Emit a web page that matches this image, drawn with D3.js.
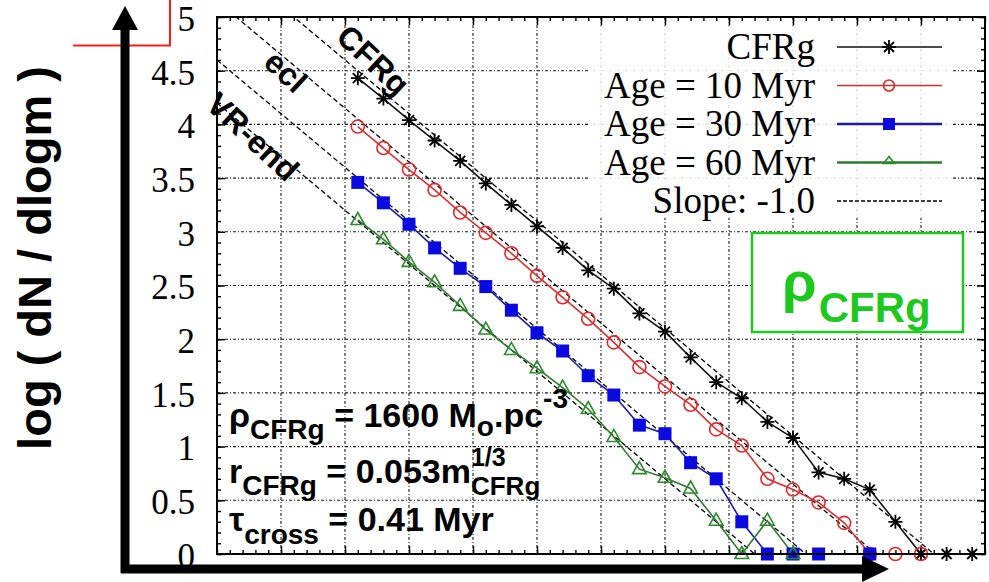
<!DOCTYPE html>
<html>
<head>
<meta charset="utf-8">
<script src="https://cdn.jsdelivr.net/npm/d3@7"></script>
<style>
  html, body { margin: 0; padding: 0; background: #fff; }
  svg { display: block; }
  text { white-space: pre; }
</style>
</head>
<body>
<svg id="chart" width="989" height="582"></svg>
<script>
// log10 of the cluster mass at each sampled bin
const logMass = [1.6, 1.8, 2.0, 2.2, 2.4, 2.6, 2.8, 3.0, 3.2, 3.4, 3.6, 3.8, 4.0,
                 4.2, 4.4, 4.6, 4.8, 5.0, 5.2, 5.4, 5.6, 5.8, 6.0, 6.2, 6.4];

// log(dN/dlogm) for each population (null = no point in that bin)
const cfrg   = [4.43, 4.24, 4.04, 3.85, 3.66, 3.45, 3.25, 3.05, 2.85, 2.64, 2.47, 2.24, 2.07,
                1.83, 1.60, 1.45, 1.23, 1.08, 0.76, 0.70, 0.60, 0.30, 0, 0, 0];
const age10  = [3.98, 3.78, 3.58, 3.39, 3.18, 2.99, 2.80, 2.59, 2.39, 2.19, 1.97, 1.74, 1.56,
                1.39, 1.16, 1.01, 0.70, 0.60, 0.48, 0.29, 0, 0, 0];
const age30  = [3.46, 3.27, 3.07, 2.85, 2.66, 2.49, 2.27, 2.06, 1.89, 1.66, 1.48, 1.20, 1.12,
                0.85, 0.70, 0.30, 0, 0, 0, null, 0];
const age60  = [3.11, 2.93, 2.72, 2.53, 2.31, 2.09, 1.90, 1.73, 1.55, 1.35, 1.09, 0.79, 0.71,
                0.61, 0.31, 0, 0.31, 0];

// reference power laws of slope -1: log(dN/dlogm) = intercept - log m
const slopeIntercepts = [6.10, 5.65, 5.10, 4.70];

const yTicks = [0, 0.5, 1, 1.5, 2, 2.5, 3, 3.5, 4, 4.5, 5];
const yTickLabels = ["0", "0.5", "1", "1.5", "2", "2.5", "3", "3.5", "4", "4.5", "5"];
const xGridValues = [1, 1.5, 2, 2.5, 3, 3.5, 4, 4.5, 5, 5.5, 6];

const legendLabels = ["CFRg", "Age = 10 Myr", "Age = 30 Myr", "Age = 60 Myr", "Slope: -1.0"];

const W = 989, H = 582;
const plot = { left: 217, right: 985, top: 17, bottom: 554 };

const x = d3.scaleLinear().domain([0.5, 6.5]).range([plot.left, plot.right]);
const y = d3.scaleLinear().domain([0, 5]).range([plot.bottom, plot.top]);

const svg = d3.select("#chart");
svg.append("rect").attr("width", W).attr("height", H).attr("fill", "#fff");

svg.append("defs").append("clipPath").attr("id", "plotClip")
  .append("rect")
  .attr("x", plot.left).attr("y", plot.top)
  .attr("width", plot.right - plot.left).attr("height", plot.bottom - plot.top);

// ---- grid ----
const grid = svg.append("g").attr("stroke", "#1a1a1a").attr("stroke-width", 1.1)
  .attr("stroke-dasharray", "3,2,1,2");
grid.selectAll("line.gx").data(xGridValues).join("line")
  .attr("x1", d => x(d)).attr("x2", d => x(d))
  .attr("y1", plot.top).attr("y2", plot.bottom);
grid.selectAll("line.gy").data(yTicks.filter(d => d > 0 && d < 5)).join("line")
  .attr("x1", plot.left).attr("x2", plot.right)
  .attr("y1", d => y(d)).attr("y2", d => y(d));

// ---- ticks on all four sides ----
function plainTicks(g) {
  g.select(".domain").remove();
  g.selectAll(".tick line").attr("stroke", "#000").attr("stroke-width", 1.4);
}
const minorY = d3.range(0, 5.0001, 0.1);
const minorX = d3.range(0.5, 6.5001, 0.1);

svg.append("g").attr("transform", `translate(${plot.left},0)`)
  .call(d3.axisLeft(y).tickValues(minorY).tickSize(-4).tickFormat(""))
  .call(plainTicks);
svg.append("g").attr("transform", `translate(${plot.right},0)`)
  .call(d3.axisRight(y).tickValues(minorY).tickSize(-4).tickFormat(""))
  .call(plainTicks);
svg.append("g").attr("transform", `translate(${plot.right},0)`)
  .call(d3.axisRight(y).tickValues(yTicks).tickSize(-8).tickFormat(""))
  .call(plainTicks);
svg.append("g").attr("transform", `translate(0,${plot.top})`)
  .call(d3.axisTop(x).tickValues(minorX).tickSize(-4).tickFormat(""))
  .call(plainTicks);
svg.append("g").attr("transform", `translate(0,${plot.top})`)
  .call(d3.axisTop(x).tickValues(xGridValues).tickSize(-8).tickFormat(""))
  .call(plainTicks);
svg.append("g").attr("transform", `translate(0,${plot.bottom})`)
  .call(d3.axisBottom(x).tickValues(minorX).tickSize(-4).tickFormat(""))
  .call(plainTicks);
svg.append("g").attr("transform", `translate(0,${plot.bottom})`)
  .call(d3.axisBottom(x).tickValues(xGridValues).tickSize(-8).tickFormat(""))
  .call(plainTicks);

const yAxis = svg.append("g").attr("transform", `translate(${plot.left},0)`)
  .call(d3.axisLeft(y).tickValues(yTicks).tickFormat((d, i) => yTickLabels[i])
    .tickSizeInner(-8).tickSizeOuter(0).tickPadding(22))
  .call(plainTicks);
yAxis.selectAll(".tick text")
  .attr("font-family", "'Liberation Serif', 'Times New Roman', serif")
  .attr("font-size", 35).attr("fill", "#000").attr("dy", "0.38em");

// ---- slope -1 reference lines ----
const plotArea = svg.append("g").attr("clip-path", "url(#plotClip)");
const lineGen = d3.line().x(d => x(d[0])).y(d => y(d[1]));
plotArea.selectAll("path.ref").data(slopeIntercepts).join("path")
  .attr("class", "ref")
  .attr("d", c => lineGen([[0.5, c - 0.5], [6.5, c - 6.5]]))
  .attr("fill", "none").attr("stroke", "#000").attr("stroke-width", 1.3)
  .attr("stroke-dasharray", "5,3");

// ---- data series ----
const series = [
  { values: cfrg,  color: "#000000", lineColor: "#111111", marker: "star" },
  { values: age10, color: "#dd2a2a", lineColor: "#d83030", marker: "circle" },
  { values: age30, color: "#0a0ae0", lineColor: "#1a1aa8", marker: "square" },
  { values: age60, color: "#2c8a2c", lineColor: "#2f7a2f", marker: "triangle" }
];

const starPath = "M-7,0H7M0,-7V7M-5,-5L5,5M-5,5L5,-5";
const triPath = "M0,-7.5L6.8,4.5L-6.8,4.5Z";

function drawMarker(g, type, color) {
  if (type === "star") {
    g.append("path").attr("d", starPath).attr("stroke", color).attr("stroke-width", 1.8).attr("fill", "none");
  } else if (type === "circle") {
    g.append("circle").attr("r", 6.5).attr("fill", "none").attr("stroke", color).attr("stroke-width", 1.6);
  } else if (type === "square") {
    g.append("rect").attr("x", -6.5).attr("y", -6.5).attr("width", 13).attr("height", 13).attr("fill", color);
  } else {
    g.append("path").attr("d", triPath).attr("fill", "none").attr("stroke", color).attr("stroke-width", 1.6);
  }
}

series.forEach(s => {
  const pts = s.values.map((v, i) => ({ m: logMass[i], v })).filter(d => d.v !== null);
  plotArea.append("path")
    .attr("d", d3.line().x(d => x(d.m)).y(d => y(d.v))(pts))
    .attr("fill", "none").attr("stroke", s.lineColor).attr("stroke-width", 1.6);
  pts.forEach(d => {
    const g = svg.append("g").attr("transform", `translate(${x(d.m)},${y(d.v)})`);
    drawMarker(g, s.marker, s.color);
  });
});

// ---- labels along the reference lines ----
const ang = Math.atan2(y(0) - y(1), x(1) - x(0));          // screen angle of a slope -1 line
const perp = [Math.sin(ang), -Math.cos(ang)];               // points to the upper right
const lineLabels = [
  { text: "CFRg",   c: slopeIntercepts[0], m: 1.63, off: 18 },
  { text: "ecl",    c: slopeIntercepts[1], m: 1.087, off: -10 },
  { text: "VR-end", c: slopeIntercepts[2], m: 0.96, off: -36 }
];
lineLabels.forEach(l => {
  const px = x(l.m) + l.off * perp[0];
  const py = y(l.c - l.m) + l.off * perp[1];
  svg.append("text")
    .attr("transform", `translate(${px},${py}) rotate(${ang * 180 / Math.PI + 3})`)
    .attr("text-anchor", "middle").attr("dominant-baseline", "central")
    .attr("font-family", "'Liberation Sans', Arial, sans-serif").attr("font-weight", "bold")
    .attr("font-size", 32).attr("fill", "#000").text(l.text);
});

// ---- plot frame ----
svg.append("rect")
  .attr("x", plot.left).attr("y", plot.top)
  .attr("width", plot.right - plot.left).attr("height", plot.bottom - plot.top)
  .attr("fill", "none").attr("stroke", "#000").attr("stroke-width", 2);

// ---- legend ----
const legend = svg.append("g");
legend.append("rect").attr("x", 588).attr("y", 26).attr("width", 364).attr("height", 192)
  .attr("fill", "#fff").attr("opacity", 0.85);
const legendRows = [47, 85.5, 124, 162.5, 201];
const legendStyles = [
  { color: "#000", lineColor: "#111", marker: "star", width: 1.6 },
  { color: "#dd2a2a", lineColor: "#c83030", marker: "circle", width: 1.6 },
  { color: "#0a0ae0", lineColor: "#1a1aa8", marker: "square", width: 2.6 },
  { color: "#2c8a2c", lineColor: "#2f7a2f", marker: "triangle", width: 2.6 },
  { color: "#000", lineColor: "#000", marker: null, width: 1.4 }
];
legendLabels.forEach((lab, i) => {
  const ly = legendRows[i];
  const st = legendStyles[i];
  legend.append("text").attr("x", 815).attr("y", ly + 12).attr("text-anchor", "end")
    .attr("font-family", "'Liberation Serif', 'Times New Roman', serif")
    .attr("font-size", 37).attr("fill", "#000").text(lab);
  legend.append("line").attr("x1", 837).attr("x2", 942).attr("y1", ly).attr("y2", ly)
    .attr("stroke", st.lineColor).attr("stroke-width", st.width)
    .attr("stroke-dasharray", st.marker ? null : "4,2");
  if (st.marker) {
    const g = legend.append("g").attr("transform", `translate(889,${ly})`);
    if (st.marker === "circle") {
      g.append("circle").attr("r", 5.5).attr("fill", "none").attr("stroke", st.color).attr("stroke-width", 1.6);
    } else if (st.marker === "square") {
      g.append("rect").attr("x", -6).attr("y", -6).attr("width", 12).attr("height", 12).attr("fill", st.color);
    } else if (st.marker === "triangle") {
      g.append("path").attr("d", "M0,-6L5.5,1L-5.5,1Z").attr("fill", "none").attr("stroke", st.color).attr("stroke-width", 1.6);
    } else {
      drawMarker(g, st.marker, st.color);
    }
  }
});

// ---- density box ----
const green = "#1ec81e";
svg.append("rect").attr("x", 752).attr("y", 233).attr("width", 211).attr("height", 99)
  .attr("fill", "#fff").attr("stroke", green).attr("stroke-width", 2.5);
const rho = svg.append("text").attr("x", 782).attr("y", 301)
  .attr("font-family", "'Liberation Sans', Arial, sans-serif").attr("font-weight", "bold")
  .attr("fill", green).attr("font-size", 56);
rho.append("tspan").text("ρ");
rho.append("tspan").attr("font-size", 42).attr("dy", 21).attr("dx", 2).text("CFRg");

// ---- cluster parameters ----
const sans = "'Liberation Sans', Arial, sans-serif";
const p1 = svg.append("text").attr("x", 229).attr("y", 427).attr("font-family", sans)
  .attr("font-weight", "bold").attr("font-size", 34).attr("fill", "#000");
p1.append("tspan").text("ρ");
p1.append("tspan").attr("font-size", 28).attr("dy", 12).text("CFRg");
p1.append("tspan").attr("dy", -12).text(" = 1600 M");
p1.append("tspan").attr("font-size", 28).attr("dy", 9).text("o");
p1.append("tspan").attr("dy", -9).text(".pc");
p1.append("tspan").attr("font-size", 28).attr("dy", -19).text("-3");

// radius law: the exponent and the subscript are stacked after "m", each in its own text
const p2 = svg.append("text").attr("x", 229).attr("y", 483).attr("font-family", sans)
  .attr("font-weight", "bold").attr("font-size", 34).attr("fill", "#000");
p2.append("tspan").text("r");
p2.append("tspan").attr("font-size", 28).attr("dy", 12).text("CFRg");
const p2Main = p2.append("tspan").attr("dy", -12).text(" = 0.053m");
const p2End = p2.node().getBBox().x + p2.node().getComputedTextLength();
svg.append("text").attr("x", p2End).attr("y", 466).attr("font-family", sans)
  .attr("font-weight", "bold").attr("font-size", 25).attr("fill", "#000").text("1/3");
svg.append("text").attr("x", p2End).attr("y", 495).attr("font-family", sans)
  .attr("font-weight", "bold").attr("font-size", 26).attr("fill", "#000").text("CFRg");

const p3 = svg.append("text").attr("x", 229).attr("y", 531).attr("font-family", sans)
  .attr("font-weight", "bold").attr("font-size", 34).attr("fill", "#000");
p3.append("tspan").text("τ");
p3.append("tspan").attr("font-size", 28).attr("dy", 13).text("cross");
p3.append("tspan").attr("dy", -13).text(" = 0.41 Myr");

// ---- y axis title ----
svg.append("text")
  .attr("transform", "translate(51,258) rotate(-90)")
  .attr("text-anchor", "middle")
  .attr("font-family", sans).attr("font-weight", "bold").attr("font-size", 47)
  .attr("fill", "#000").text("log ( dN / dlogm )");

// ---- red corner marker ----
svg.append("path").attr("d", "M73,45.5H170V0")
  .attr("fill", "none").attr("stroke", "#ff1a1a").attr("stroke-width", 2);

// ---- heavy axis arrows ----
svg.append("line").attr("x1", 125).attr("x2", 125).attr("y1", 573).attr("y2", 26)
  .attr("stroke", "#000").attr("stroke-width", 9);
svg.append("path").attr("d", "M112,30L138,30L125,6Z").attr("fill", "#000");
svg.append("line").attr("x1", 121).attr("x2", 866).attr("y1", 569).attr("y2", 569)
  .attr("stroke", "#000").attr("stroke-width", 9);
svg.append("path").attr("d", "M862,556L862,582L889,569Z").attr("fill", "#000");
</script>
</body>
</html>
